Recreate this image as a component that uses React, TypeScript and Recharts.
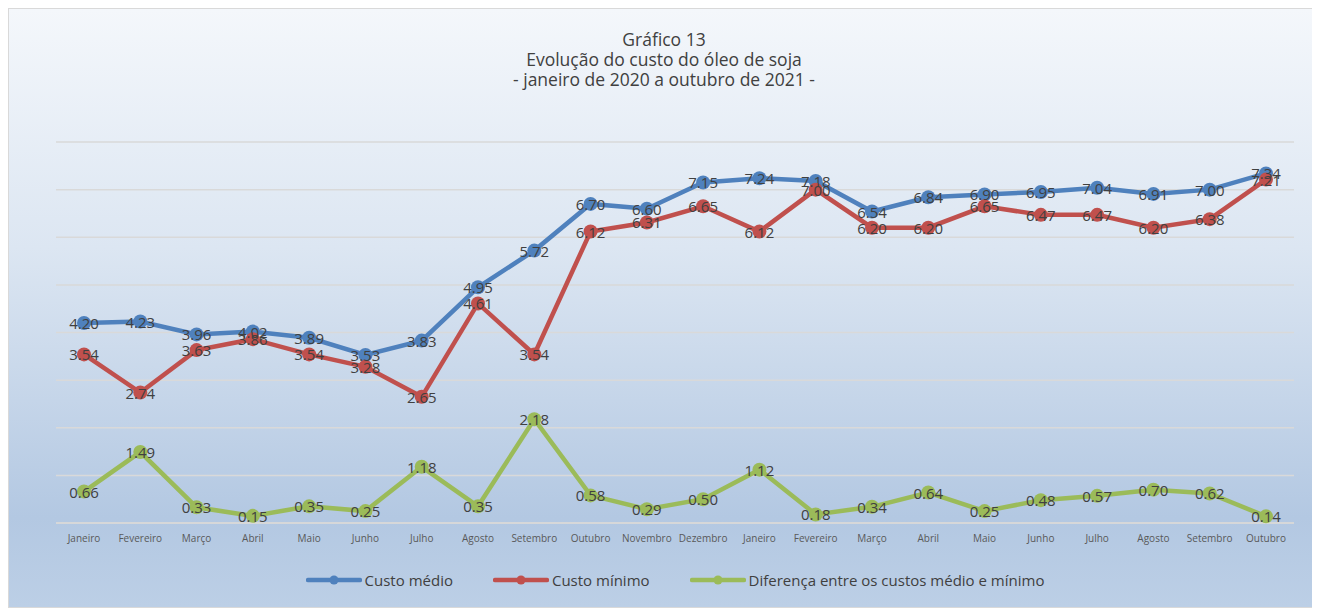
import React from 'react';
import { LineChart, Line, XAxis, YAxis, CartesianGrid, Legend, LabelList } from 'recharts';

const months = ['Janeiro','Fevereiro','Março','Abril','Maio','Junho','Julho','Agosto','Setembro','Outubro','Novembro','Dezembro','Janeiro','Fevereiro','Março','Abril','Maio','Junho','Julho','Agosto','Setembro','Outubro'];
const custoMedio = [4.20,4.23,3.96,4.02,3.89,3.53,3.83,4.95,5.72,6.70,6.60,7.15,7.24,7.18,6.54,6.84,6.90,6.95,7.04,6.91,7.00,7.34];
const custoMinimo = [3.54,2.74,3.63,3.86,3.54,3.28,2.65,4.61,3.54,6.12,6.31,6.65,6.12,7.00,6.20,6.20,6.65,6.47,6.47,6.20,6.38,7.21];
const diferenca = [0.66,1.49,0.33,0.15,0.35,0.25,1.18,0.35,2.18,0.58,0.29,0.50,1.12,0.18,0.34,0.64,0.25,0.48,0.57,0.70,0.62,0.14];
const yTicks = [0,1,2,3,4,5,6,7,8];

const seriesInfo = [
  { key: 'medio', name: 'Custo médio', color: '#4f81bd' },
  { key: 'minimo', name: 'Custo mínimo', color: '#c0504d' },
  { key: 'dif', name: 'Diferença entre os custos médio e mínimo', color: '#9bbb59' },
];

const data = months.map((m, i) => ({ idx: i, month: m, medio: custoMedio[i], minimo: custoMinimo[i], dif: diferenca[i] }));

const FONT = '"Open Sans", sans-serif';

const renderLabel = (props: any) => {
  const { x, y, value } = props;
  return (
    <text x={x} y={y} textAnchor="middle" dominantBaseline="central" fill="#404040" fontSize={15} fontFamily={FONT}>
      {Number(value).toFixed(2)}
    </text>
  );
};

const LegendContent = () => (
  <div style={{ height: 50, display: 'flex', justifyContent: 'center', alignItems: 'flex-end', fontFamily: FONT, fontSize: 15, color: '#404040' }}>
    {seriesInfo.map((s, i) => (
      <div key={s.key} style={{ display: 'flex', alignItems: 'center', marginLeft: i === 0 ? 0 : 40, height: 18, marginBottom: 8 }}>
        <svg width={56} height={12} style={{ marginRight: 3 }}>
          <line x1={2} y1={6} x2={54} y2={6} stroke={s.color} strokeWidth={4.5} strokeLinecap="round" />
          <circle cx={28} cy={6} r={4.5} fill={s.color} />
        </svg>
        <span>{s.name}</span>
      </div>
    ))}
  </div>
);

export default function App() {
  return (
    <div style={{ position: 'relative', width: 1310, height: 598, border: '1px solid #d9d9d9', background: 'linear-gradient(to bottom, #f4f7fb 0%, #dce6f2 40%, #b3c8e2 85%, #bccfe6 100%)' }}>
      <div style={{ position: 'absolute', top: 20, left: 0, width: 1310, textAlign: 'center', fontFamily: FONT, fontSize: 17.5, lineHeight: '20px', color: '#404040', zIndex: 2 }}>
        <div>Gráfico 13</div>
        <div>Evolução do custo do óleo de soja</div>
        <div>- janeiro de 2020 a outubro de 2021 -</div>
      </div>
      <LineChart width={1310} height={598} data={data} margin={{ top: 133, right: 25, left: 47, bottom: 10 }}>
        <CartesianGrid horizontal vertical={false} stroke="#d9d9d9" strokeWidth={1.5} />
        <YAxis hide domain={[0, 8]} ticks={yTicks} />
        <XAxis dataKey="idx" interval={0} height={24} tickLine={false} axisLine={{ stroke: '#d9d9d9', strokeWidth: 1.5 }}
          padding={{ left: 28, right: 28 }}
          tickFormatter={(v: number) => months[v]} tick={{ fontSize: 10, fill: '#595959', fontFamily: FONT }} tickMargin={6} />
        <Legend verticalAlign="bottom" content={<LegendContent />} />
        {seriesInfo.map((s) => (
          <Line key={s.key} type="linear" dataKey={s.key} name={s.name} stroke={s.color} strokeWidth={4.5}
            dot={{ r: 7, fill: s.color, stroke: s.color, strokeWidth: 0 }} activeDot={false} isAnimationActive={false}>
            <LabelList dataKey={s.key} content={renderLabel} />
          </Line>
        ))}
      </LineChart>
    </div>
  );
}
